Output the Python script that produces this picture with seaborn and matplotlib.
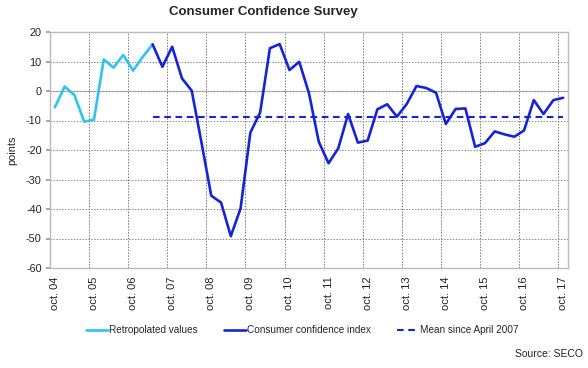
import matplotlib
matplotlib.use("Agg")
import matplotlib.pyplot as plt
import seaborn as sns
import numpy as np
import pandas as pd

sns.set_theme(style="white")
plt.rcParams['font.family'] = ['Liberation Sans', 'DejaVu Sans']

# quarterly data, oct.04 .. oct.17 (53 quarters)
year_labels = ["oct. 04", "oct. 05", "oct. 06", "oct. 07", "oct. 08", "oct. 09", "oct. 10",
               "oct. 11", "oct. 12", "oct. 13", "oct. 14", "oct. 15", "oct. 16", "oct. 17"]
retro_values = [-5.5, 1.5, -1.4, -10.4, -9.7, 10.7, 7.9, 12.2, 6.9, 11.6, 15.8]
cci_values = [15.8, 8.2, 15.0, 4.3, 0.1, -17.5, -35.5, -37.8, -49.2, -39.8,
              -14.1, -7.3, 14.5, 15.9, 7.1, 9.9, -0.8, -17.2, -24.5, -19.4,
              -7.8, -17.5, -16.8, -6.2, -4.5, -8.7, -4.4, 1.7, 1.0, -0.6,
              -11.2, -6.1, -5.9, -18.9, -17.7, -13.7, -14.7, -15.5, -13.4, -3.1,
              -7.8, -3.1, -2.3]
mean_value = -8.7
cci_start = 10  # April 2007

retro_x = list(range(len(retro_values)))
cci_x = list(range(cci_start, cci_start + len(cci_values)))
df_retro = pd.DataFrame({"q": retro_x, "v": retro_values})
df_cci = pd.DataFrame({"q": cci_x, "v": cci_values})
df_mean = pd.DataFrame({"q": cci_x, "v": [mean_value] * len(cci_x)})

LIGHT = "#2ec4f0"
DARK = "#1424d8"

fig = plt.figure(figsize=(5.88, 3.68), dpi=100)
ax = fig.add_axes([50/588, 1-268/368, 518/588, 236/368])

sns.lineplot(data=df_retro, x="q", y="v", ax=ax, color=LIGHT, lw=1.9,
             label="Retropolated values")
sns.lineplot(data=df_cci, x="q", y="v", ax=ax, color=DARK, lw=1.9,
             label="Consumer confidence index")
sns.lineplot(data=df_mean, x="q", y="v", ax=ax, color=DARK, lw=1.5,
             linestyle=(0, (3.2, 2.2)), label="Mean since April 2007")

n_q = 53
ax.set_xlim(-0.5, n_q - 0.5)
ax.set_ylim(-60, 20)
ax.set_yticks(np.arange(-60, 21, 10))
ax.set_yticklabels([str(v) for v in range(-60, 21, 10)], fontsize=7.8, color="#222222")
ax.set_xticks(np.arange(0, n_q, 4))
ax.set_xticklabels(year_labels, rotation=90, fontsize=8, color="#222222")
ax.set_xticks(np.arange(-0.5, n_q - 1, 4), minor=True)
ax.tick_params(axis="x", which="major", length=0, pad=6)
ax.tick_params(axis="x", which="minor", length=0)
ax.tick_params(axis="y", which="major", length=3, color="#999999", pad=3, left=True)

ax.grid(False)
ax.xaxis.grid(True, which="minor", linestyle=(0, (1.5, 1.5)), color="#777777", lw=0.7)
ax.yaxis.grid(True, which="major", linestyle=(0, (1.5, 1.5)), color="#888888", lw=0.7)
ax.axhline(0, color="#c8c8c8", lw=1.0, zorder=0.5)
ax.set_axisbelow(True)

for s in ["top", "right", "left", "bottom"]:
    ax.spines[s].set_visible(True)
    ax.spines[s].set_color("#bbbbbb")
    ax.spines[s].set_linewidth(1.0)

ax.set_xlabel("")
ax.set_ylabel("points", fontsize=7.8, color="#222222", labelpad=6)

handles, labels = ax.get_legend_handles_labels()
ax.get_legend().remove()
fig.legend(handles, labels, loc="center", bbox_to_anchor=(302/588, 1-330/368),
           ncol=3, frameon=False, fontsize=7.2, handlelength=2.2, handletextpad=0.1,
           columnspacing=2.6)

fig.text(263/588, 1-12/368, "Consumer Confidence Survey", ha="center", va="center",
         fontsize=9.5, fontweight="bold")
fig.text(583/588, 1-354/368, "Source: SECO", ha="right", va="center", fontsize=7.5,
         color="#222222")

fig.savefig("out.png", dpi=100)
